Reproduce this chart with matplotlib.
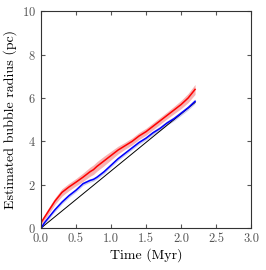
#!/usr/bin/env python3

import numpy as np
from matplotlib import pyplot as plt

plt.rcParams['font.family'] = ['cmr10', 'DejaVu Serif']
plt.rcParams['axes.formatter.use_mathtext'] = True

# time samples (Myr)
t = [0, 0.05, 0.1, 0.2, 0.3, 0.4, 0.5, 0.6, 0.7, 0.75, 0.8, 0.9, 1.0,
     1.1, 1.2, 1.3, 1.4, 1.5, 1.6, 1.7, 1.8, 1.9, 2.0, 2.1, 2.2]

# red run: mean radius and spread (pc)
r_red = [0.25, 0.5, 0.75, 1.25, 1.65, 1.9, 2.12, 2.35, 2.6, 2.7, 2.85, 3.1, 3.35,
         3.6, 3.8, 4.0, 4.25, 4.45, 4.7, 4.95, 5.2, 5.45, 5.7, 6.0, 6.4]
e_red = [0.1, 0.12, 0.15, 0.15, 0.17, 0.17, 0.17, 0.19, 0.21, 0.22, 0.22, 0.22, 0.2,
         0.18, 0.16, 0.16, 0.16, 0.16, 0.16, 0.16, 0.16, 0.17, 0.19, 0.21, 0.23]

# blue run
r_blue = [0.0, 0.25, 0.45, 0.85, 1.2, 1.5, 1.75, 2.05, 2.2, 2.25, 2.35, 2.6, 2.9,
          3.2, 3.45, 3.7, 3.95, 4.15, 4.4, 4.6, 4.85, 5.05, 5.3, 5.55, 5.85]
e_blue = [0.05, 0.06, 0.07, 0.08, 0.08, 0.08, 0.08, 0.08, 0.08, 0.08, 0.08, 0.08, 0.08,
          0.08, 0.08, 0.08, 0.08, 0.08, 0.09, 0.1, 0.1, 0.1, 0.1, 0.1, 0.1]

# reference linear expansion
t_lin = [0, 2.2]
r_lin = [0, 5.8]

t = np.array(t)
r_red, e_red = np.array(r_red), np.array(e_red)
r_blue, e_blue = np.array(r_blue), np.array(e_blue)

fig = plt.figure(figsize=(2.66, 2.70), dpi=100)
ax = fig.add_axes([0.154, 0.155, 0.79, 0.803])

ax.fill_between(t, r_red - e_red, r_red + e_red, color="#f08080", alpha=0.6, lw=0)
ax.fill_between(t, r_blue - e_blue, r_blue + e_blue, color="#9090e0", alpha=0.5, lw=0)
ax.plot(t_lin, r_lin, color="black", lw=0.7)
ax.plot(t, r_red, color="red", lw=1.1)
ax.plot(t, r_blue, color="blue", lw=1.1)

ax.set_xlim(0, 3)
ax.set_ylim(0, 10)
ax.set_xticks([0, 0.5, 1.0, 1.5, 2.0, 2.5, 3.0])
ax.set_xticklabels(["0.0", "0.5", "1.0", "1.5", "2.0", "2.5", "3.0"])
ax.set_yticks([0, 2, 4, 6, 8, 10])
ax.tick_params(direction="in", top=True, right=True, labelsize=9, colors="#555555",
               labelcolor="#555555", length=3)
for s in ax.spines.values():
    s.set_color("#333333")
ax.set_xlabel("Time (Myr)", fontsize=10, labelpad=2)
ax.set_ylabel("Estimated bubble radius (pc)", fontsize=10, labelpad=4)

plt.savefig("out.png", dpi=100)
